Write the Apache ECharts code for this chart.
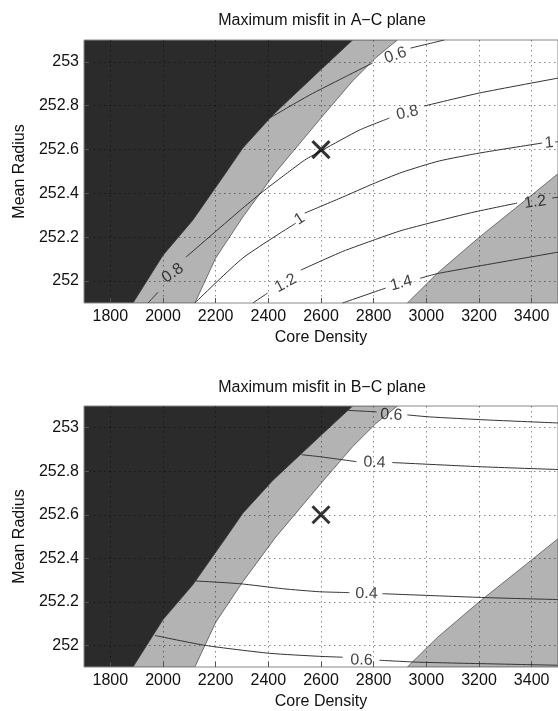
<!DOCTYPE html>
<html>
<head>
<meta charset="utf-8">
<script src="https://cdn.jsdelivr.net/npm/echarts@6/dist/echarts.min.js"></script>
<style>
  html, body { margin: 0; padding: 0; background: #fff; }
  #chart { width: 558px; height: 711px; }
</style>
</head>
<body>
<div id="chart"></div>
<script>
// axis ranges and ticks
const xRange = [1700, 3500];
const yRange = [251.9, 253.1];
const xTicks = [1800, 2000, 2200, 2400, 2600, 2800, 3000, 3200, 3400];
const yTicks = [252, 252.2, 252.4, 252.6, 252.8, 253];

// region boundaries (same in both planes)
const darkEdge = [[1886, 251.9], [2000, 252.118], [2113, 252.278], [2238, 252.493], [2303, 252.607], [2417, 252.758], [2606, 252.972], [2720, 253.1]];
const greyEdge = [[2121, 251.9], [2200, 252.105], [2303, 252.292], [2428, 252.497], [2606, 252.753], [2720, 252.913], [2807, 253.018], [2890, 253.1]];
const lowerGreyEdge = [[2928, 251.9], [3042, 252.036], [3201, 252.2], [3376, 252.369], [3500, 252.49]];

// best fit
const bestFit = [2600, 252.6];

// A-C plane contours (segments are split where labels sit)
const acContours = [
  [[[2405, 252.744], [2557, 252.849], [2682, 252.926], [2796, 252.995]], [[2940, 253.063], [3068, 253.1]]],
  [[[1943, 251.9], [1981, 251.949]], [[2087, 252.109], [2303, 252.333], [2386, 252.415], [2466, 252.488], [2538, 252.552], [2606, 252.598], [2746, 252.689], [2860, 252.744]], [[2993, 252.799], [3201, 252.858], [3500, 252.926]]],
  [[[2121, 251.9], [2303, 252.105], [2504, 252.264]], [[2538, 252.31], [2682, 252.383], [2796, 252.443], [2909, 252.497], [3049, 252.548], [3201, 252.584], [3440, 252.63]], [[3489, 252.635], [3500, 252.636]]],
  [[[2341, 251.9], [2397, 251.945]], [[2523, 252.05], [2682, 252.135], [2807, 252.19], [2909, 252.232], [3163, 252.31], [3345, 252.356]], [[3478, 252.379], [3500, 252.383]]],
  [[[2682, 251.9], [2845, 251.968]], [[2977, 252.013], [3049, 252.036], [3500, 252.132]]]
];
const acLabels = [[2883, 253.03, '0.6'], [2037, 252.036, '0.8'], [2928, 252.767, '0.8'], [2519, 252.283, '1'], [3466, 252.63, '1'], [2466, 251.99, '1.2'], [3413, 252.36, '1.2'], [2905, 251.99, '1.4']];
const acLabelAngles = [18, 36, 12, 33, 5, 28, 8, 15];

// B-C plane contours
const bcContours = [
  [[[2700, 253.08], [2811, 253.073]], [[2928, 253.059], [3011, 253.05], [3227, 253.036], [3500, 253.022]]],
  [[[2526, 252.876], [2595, 252.867], [2735, 252.844]], [[2871, 252.84], [3201, 252.821], [3500, 252.808]]],
  [[[2117, 252.296], [2291, 252.283], [2454, 252.26], [2595, 252.246], [2708, 252.242]], [[2833, 252.237], [3227, 252.219], [3500, 252.21]]],
  [[[1969, 252.045], [2162, 251.999], [2405, 251.963], [2595, 251.949], [2682, 251.945]], [[2822, 251.931], [2973, 251.922], [3500, 251.908]]]
];
const bcLabels = [[2867, 253.059, '0.6'], [2803, 252.84, '0.4'], [2773, 252.237, '0.4'], [2754, 251.931, '0.6']];
const bcLabelAngles = [-3, -2, -1, -1];

const titles = ['Maximum misfit in A\u2212C plane', 'Maximum misfit in B\u2212C plane'];

const font = 'Liberation Sans, Arial, Helvetica, sans-serif';
const textColor = '#111';
const darkFill = '#2b2b2b';
const greyFill = '#b3b3b3';

const chart = echarts.init(document.getElementById('chart'));

function polygonSeries(gridIndex, points, fill, stroke) {
  return {
    type: 'custom',
    xAxisIndex: gridIndex,
    yAxisIndex: gridIndex,
    z: 1,
    silent: true,
    clip: true,
    data: [points[0]],
    renderItem: function(params, api) {
      return {
        type: 'polygon',
        shape: { points: points.map(p => api.coord(p)) },
        style: { fill: fill, stroke: stroke, lineWidth: 0.8 }
      };
    }
  };
}

function buildSeries(gridIndex, contours, labels, angles) {
  const list = [];
  const corners = [[xRange[0], yRange[1]], [xRange[0], yRange[0]]];
  list.push(polygonSeries(gridIndex, greyEdge.concat(corners), greyFill, '#555'));
  list.push(polygonSeries(gridIndex, darkEdge.concat(corners), darkFill, '#333'));
  list.push(polygonSeries(gridIndex, lowerGreyEdge.concat([[xRange[1], yRange[0]]]), greyFill, '#555'));
  contours.forEach(segs => {
    segs.forEach(seg => {
      list.push({
        type: 'line',
        xAxisIndex: gridIndex,
        yAxisIndex: gridIndex,
        z: 3,
        silent: true,
        symbol: 'none',
        smooth: 0.2,
        lineStyle: { color: '#333', width: 1 },
        data: seg
      });
    });
  });
  list.push({
    type: 'scatter',
    xAxisIndex: gridIndex,
    yAxisIndex: gridIndex,
    z: 4,
    silent: true,
    symbolSize: 0,
    data: labels.map((l, i) => ({
      value: [l[0], l[1]],
      label: { rotate: angles[i] },
      name: l[2]
    })),
    label: {
      show: true,
      position: 'inside',
      formatter: p => p.name,
      fontSize: 16,
      fontFamily: font,
      color: textColor
    }
  });
  list.push({
    type: 'scatter',
    xAxisIndex: gridIndex,
    yAxisIndex: gridIndex,
    z: 5,
    silent: true,
    symbol: 'path://M0,0L10,10M10,0L0,10',
    symbolSize: 17,
    itemStyle: { color: 'none', borderColor: '#000', borderWidth: 3 },
    data: [bestFit]
  });
  return list;
}

function xAxisFor(gridIndex) {
  return {
    type: 'value',
    gridIndex: gridIndex,
    min: xRange[0],
    max: xRange[1],
    z: 2,
    axisLine: { show: false },
    axisTick: { show: true, inside: true, length: 5, customValues: xTicks, lineStyle: { color: '#555' } },
    axisLabel: { customValues: xTicks, margin: 6, fontSize: 16, fontFamily: font, color: textColor, formatter: v => String(v) },
    splitLine: { show: true, lineStyle: { type: [1.5, 3.5], color: 'rgba(0,0,0,0.45)', width: 1 } },
    name: 'Core Density',
    nameLocation: 'middle',
    nameGap: 27,
    nameTextStyle: { fontSize: 16, fontFamily: font, color: textColor }
  };
}

function yAxisFor(gridIndex) {
  return {
    type: 'value',
    gridIndex: gridIndex,
    min: yRange[0],
    max: yRange[1],
    z: 2,
    axisLine: { show: false },
    axisTick: { show: true, inside: true, length: 5, customValues: yTicks, lineStyle: { color: '#555' } },
    axisLabel: { customValues: yTicks, margin: 5, fontSize: 16, fontFamily: font, color: textColor, formatter: v => String(v) },
    splitLine: { show: true, lineStyle: { type: [1.5, 3.5], color: 'rgba(0,0,0,0.45)', width: 1 } },
    name: 'Mean Radius',
    nameLocation: 'middle',
    nameGap: 55,
    nameTextStyle: { fontSize: 16, fontFamily: font, color: textColor }
  };
}

const option = {
  animation: false,
  backgroundColor: '#fff',
  title: titles.map((t, i) => ({
    text: t,
    left: 322,
    top: i === 0 ? 13 : 380,
    textAlign: 'center',
    padding: 0,
    textStyle: { fontSize: 16, fontWeight: 'normal', fontFamily: font, color: textColor }
  })),
  grid: [
    { left: 84, top: 40, width: 475.5, height: 263, show: true, borderColor: '#888', borderWidth: 1, z: 2 },
    { left: 84, top: 406, width: 475.5, height: 263, show: true, borderColor: '#888', borderWidth: 1, z: 2 }
  ],
  xAxis: [xAxisFor(0), xAxisFor(1)],
  yAxis: [yAxisFor(0), yAxisFor(1)],
  series: buildSeries(0, acContours, acLabels, acLabelAngles).concat(buildSeries(1, bcContours, bcLabels, bcLabelAngles))
};

chart.setOption(option);
</script>
</body>
</html>
